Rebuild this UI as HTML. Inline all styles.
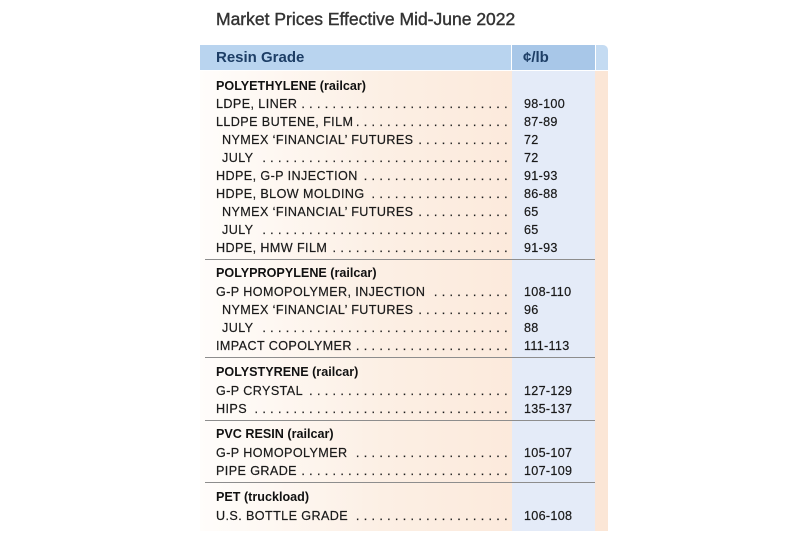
<!DOCTYPE html>
<html><head><meta charset="utf-8"><style>
body{margin:0;width:800px;height:533px;background:#fff;position:relative;overflow:hidden;font-family:"Liberation Sans",sans-serif;}
.abs{position:absolute}
.title{left:216px;top:9px;font-size:17.5px;color:#333;-webkit-text-stroke:0.4px #333;}
.body{left:200px;top:71px;width:408px;height:460px;background:linear-gradient(90deg,#fffdfb 0%,#fcefe4 45%,#fbe6d6 100%);}
.vcol{left:512px;top:71px;width:83px;height:460px;background:#e4ebf8;}
.hdr{left:200px;top:45px;width:311px;height:25px;background:#b9d4ef;}
.hdr2{left:512px;top:45px;width:83px;height:25px;background:#a8c7e8;}
.hdr3{left:596px;top:45px;width:12px;height:25px;background:#c4dbf2;border-top-right-radius:5px;}
.ht{font-weight:bold;color:#1d3e66;font-size:15px;top:49px}
.row{position:absolute;left:216px;width:292px;display:flex;font-size:12.6px;color:#1a1a1a;height:16px;line-height:16px;letter-spacing:0.4px;-webkit-text-stroke:0.2px #1a1a1a}
.row .d{flex:1;overflow:hidden;white-space:nowrap;direction:rtl;text-align:left;margin-left:4px}
.v{position:absolute;left:524px;font-size:12.6px;color:#1a1a1a;line-height:16px;letter-spacing:0.3px;-webkit-text-stroke:0.2px #1a1a1a}
.h{position:absolute;left:216px;font-size:12.6px;font-weight:bold;color:#111;line-height:16px}
.sep{position:absolute;left:205px;width:390px;height:1px;background:#8d8d8d}
.in{padding-left:6px}
</style></head><body>
<div class="abs title">Market Prices Effective Mid-June 2022</div>
<div class="abs body"></div>
<div class="abs vcol"></div>
<div class="abs hdr"></div><div class="abs hdr2"></div><div class="abs hdr3"></div>
<div class="abs ht" style="left:216px">Resin Grade</div>
<div class="abs ht" style="left:523px">¢/lb</div>

<div class="h" style="top:78px">POLYETHYLENE (railcar)</div>
<div class="row" style="top:96px"><span>LDPE, LINER</span><span class="d">. . . . . . . . . . . . . . . . . . . . . . . . . . . . . . . . . . . . . . . . . . . .</span></div><div class="v" style="top:96px">98-100</div>
<div class="row" style="top:114px"><span>LLDPE BUTENE, FILM</span><span class="d">. . . . . . . . . . . . . . . . . . . . . . . . . . . . . . . . . . . . . . . . . . . .</span></div><div class="v" style="top:114px">87-89</div>
<div class="row" style="top:132px"><span class="in">NYMEX ‘FINANCIAL’ FUTURES</span><span class="d">. . . . . . . . . . . . . . . . . . . . . . . . . . . . . . . . . . . . . . . . . . . .</span></div><div class="v" style="top:132px">72</div>
<div class="row" style="top:150px"><span class="in">JULY</span><span class="d">. . . . . . . . . . . . . . . . . . . . . . . . . . . . . . . . . . . . . . . . . . . .</span></div><div class="v" style="top:150px">72</div>
<div class="row" style="top:168px"><span>HDPE, G-P INJECTION</span><span class="d">. . . . . . . . . . . . . . . . . . . . . . . . . . . . . . . . . . . . . . . . . . . .</span></div><div class="v" style="top:168px">91-93</div>
<div class="row" style="top:186px"><span>HDPE, BLOW MOLDING</span><span class="d">. . . . . . . . . . . . . . . . . . . . . . . . . . . . . . . . . . . . . . . . . . . .</span></div><div class="v" style="top:186px">86-88</div>
<div class="row" style="top:204px"><span class="in">NYMEX ‘FINANCIAL’ FUTURES</span><span class="d">. . . . . . . . . . . . . . . . . . . . . . . . . . . . . . . . . . . . . . . . . . . .</span></div><div class="v" style="top:204px">65</div>
<div class="row" style="top:222px"><span class="in">JULY</span><span class="d">. . . . . . . . . . . . . . . . . . . . . . . . . . . . . . . . . . . . . . . . . . . .</span></div><div class="v" style="top:222px">65</div>
<div class="row" style="top:240px"><span>HDPE, HMW FILM</span><span class="d">. . . . . . . . . . . . . . . . . . . . . . . . . . . . . . . . . . . . . . . . . . . .</span></div><div class="v" style="top:240px">91-93</div>
<div class="sep" style="top:259px"></div>

<div class="h" style="top:265px">POLYPROPYLENE (railcar)</div>
<div class="row" style="top:284px"><span>G-P HOMOPOLYMER, INJECTION</span><span class="d">. . . . . . . . . . . . . . . . . . . . . . . . . . . . . . . . . . . . . . . . . . . .</span></div><div class="v" style="top:284px">108-110</div>
<div class="row" style="top:302px"><span class="in">NYMEX ‘FINANCIAL’ FUTURES</span><span class="d">. . . . . . . . . . . . . . . . . . . . . . . . . . . . . . . . . . . . . . . . . . . .</span></div><div class="v" style="top:302px">96</div>
<div class="row" style="top:320px"><span class="in">JULY</span><span class="d">. . . . . . . . . . . . . . . . . . . . . . . . . . . . . . . . . . . . . . . . . . . .</span></div><div class="v" style="top:320px">88</div>
<div class="row" style="top:338px"><span>IMPACT COPOLYMER</span><span class="d">. . . . . . . . . . . . . . . . . . . . . . . . . . . . . . . . . . . . . . . . . . . .</span></div><div class="v" style="top:338px">111-113</div>
<div class="sep" style="top:357px"></div>

<div class="h" style="top:364px">POLYSTYRENE (railcar)</div>
<div class="row" style="top:383px"><span>G-P CRYSTAL</span><span class="d">. . . . . . . . . . . . . . . . . . . . . . . . . . . . . . . . . . . . . . . . . . . .</span></div><div class="v" style="top:383px">127-129</div>
<div class="row" style="top:401px"><span>HIPS</span><span class="d">. . . . . . . . . . . . . . . . . . . . . . . . . . . . . . . . . . . . . . . . . . . .</span></div><div class="v" style="top:401px">135-137</div>
<div class="sep" style="top:420px"></div>

<div class="h" style="top:426px">PVC RESIN (railcar)</div>
<div class="row" style="top:445px"><span>G-P HOMOPOLYMER</span><span class="d">. . . . . . . . . . . . . . . . . . . . . . . . . . . . . . . . . . . . . . . . . . . .</span></div><div class="v" style="top:445px">105-107</div>
<div class="row" style="top:463px"><span>PIPE GRADE</span><span class="d">. . . . . . . . . . . . . . . . . . . . . . . . . . . . . . . . . . . . . . . . . . . .</span></div><div class="v" style="top:463px">107-109</div>
<div class="sep" style="top:482px"></div>

<div class="h" style="top:489px">PET (truckload)</div>
<div class="row" style="top:508px"><span>U.S. BOTTLE GRADE</span><span class="d">. . . . . . . . . . . . . . . . . . . . . . . . . . . . . . . . . . . . . . . . . . . .</span></div><div class="v" style="top:508px">106-108</div>
</body></html>
